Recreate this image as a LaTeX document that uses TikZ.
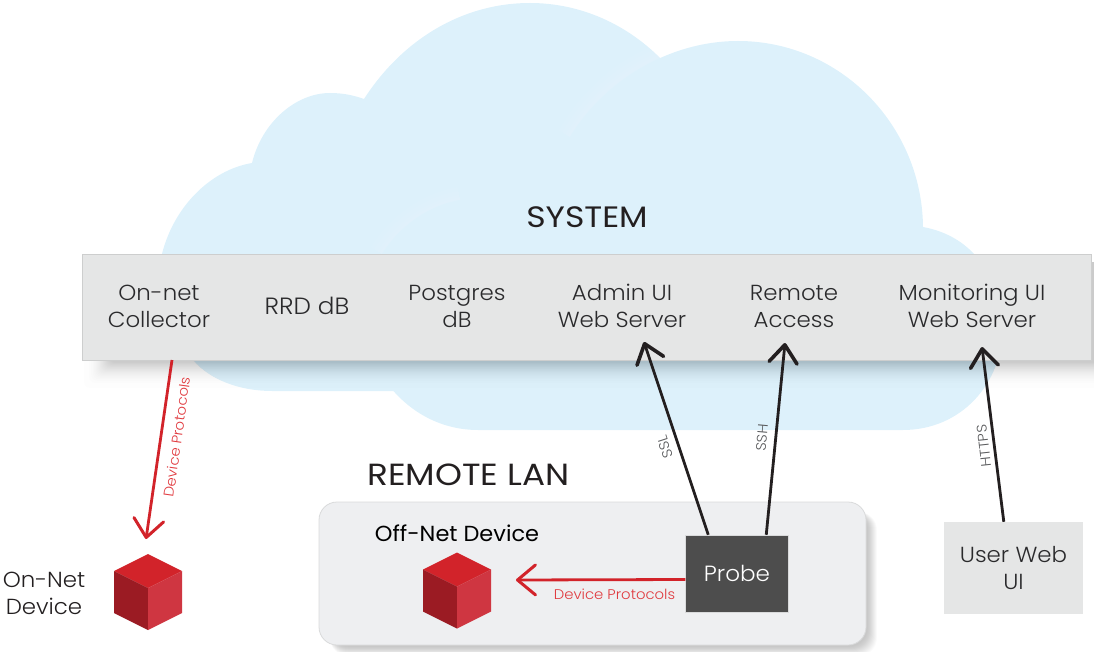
\documentclass[tikz,border=0pt]{standalone}
\usepackage{fontspec}
\setmainfont{Poppins Light}
\newfontfamily\headfont{Poppins}[FakeStretch=1.12]
\newfontfamily\barfont{Poppins Light}[FakeStretch=1.05]
\newfontfamily\smallfont{Poppins Light}[FakeStretch=1.06]
\newfontfamily\regfont{Poppins}[FakeStretch=1.03]
\usetikzlibrary{arrows.meta}
\definecolor{cloudblue}{HTML}{DDF1FB}
\definecolor{barfill}{HTML}{E5E6E6}
\definecolor{barline}{HTML}{CDCECE}
\definecolor{lanfill}{HTML}{EEEFF1}
\definecolor{lanline}{HTML}{D9DADB}
\definecolor{probefill}{HTML}{4D4D4D}
\definecolor{inkdark}{HTML}{231F20}
\definecolor{inkbar}{HTML}{2A2A2C}
\definecolor{inkgrey}{HTML}{58595B}
\definecolor{redline}{HTML}{D2232A}
\definecolor{redtext}{HTML}{E0393E}
\definecolor{cubetop}{HTML}{D2232A}
\definecolor{cubeleft}{HTML}{9B1B23}
\definecolor{cuberight}{HTML}{CF3641}
\tikzset{
  barlabel/.style={font=\barfont\fontsize{21.8}{27}\selectfont,text=inkbar,align=center,inner sep=0pt},
  heading/.style={font=\headfont\fontsize{29.5}{32}\selectfont,text=inkdark,inner sep=0pt},
  protolabel/.style={font=\smallfont\fontsize{14}{15}\selectfont,text=redtext,inner sep=0pt},
  linklabel/.style={font=\smallfont\fontsize{14}{14}\selectfont,text=inkgrey,inner sep=0pt},
  blackarrow/.style={draw=inkdark,line width=2.8pt,-{Straight Barb[length=18pt,width=28pt,line width=3.6pt,round]}},
  redarrow/.style={draw=redline,line width=2.8pt,-{Straight Barb[length=18pt,width=30pt,line width=3pt,round]}},
  cube/.pic={
    \fill[cubetop] (0,-38) -- (34,-21) -- (0,-4) -- (-34,-21) -- cycle;
    \fill[cubeleft] (-34,-21) -- (0,-4) -- (0,38) -- (-34,21) -- cycle;
    \fill[cuberight] (34,-21) -- (0,-4) -- (0,38) -- (34,21) -- cycle;
  }
}
\begin{document}
\begin{tikzpicture}[x=1pt,y=-1pt]
\useasboundingbox (0,0) rectangle (1094,652);
% back cloud
\fill[cloudblue] (161,258) .. controls (172,208) and (210,170) .. (252,163)
  .. controls (262,122) and (296,93) .. (330,93)
  .. controls (342,93) and (353,95) .. (364,99)
  .. controls (402,40) and (462,3) .. (530,3)
  .. controls (580,3) and (628,24) .. (664,62)
  -- (664,391) -- (272,391)
  .. controls (240,391) and (210,380) .. (193,360)
  .. controls (172,335) and (158,300) .. (161,258) -- cycle;
% soft glow on the back cloud along the front lobes
\foreach \w in {26,18,10,5}{
  \draw[white,opacity=.055,line width=\w pt]
    (382,254) .. controls (400,225) and (430,205) .. (460,200)
    (570,137) .. controls (595,95) and (625,72) .. (660,57);
}
% front cloud
\fill[cloudblue] (382,254) .. controls (400,225) and (430,205) .. (460,200)
  .. controls (468,162) and (503,131) .. (538,131)
  .. controls (549,131) and (560,133) .. (570,137)
  .. controls (603,82) and (668,41) .. (738,41)
  .. controls (840,41) and (922,125) .. (923,227)
  .. controls (945,231) and (962,241) .. (974,254)
  .. controls (990,272) and (1003,300) .. (1003,325)
  .. controls (1003,385) and (960,430) .. (903,430)
  -- (478,430)
  .. controls (430,430) and (392,400) .. (373,360)
  .. controls (360,320) and (365,275) .. (382,254) -- cycle;
% bar shadow: layers crowd towards the bar so the edge fades out
\foreach \i in {0,...,25}{
  \pgfmathsetmacro{\inset}{26*sqrt(\i/26)}
  \fill[black,opacity=.0095,rounded corners=6pt] ({84+\inset},262) rectangle (1112,{388-\inset});
}
% system bar
\node[draw=barline,fill=barfill,line width=.8pt,minimum width=1009pt,minimum height=106pt,inner sep=0pt] (bar) at (586.5,307) {};
\node[heading] (system) at (587,217) {SYSTEM};
\node[barlabel] (collector) at (159,306) {On-net\\Collector};
\node[barlabel,font=\barfont\fontsize{23.5}{27}\selectfont] (rrd) at (307,306) {RRD dB};
\node[barlabel] (postgres) at (457,306) {Postgres\\dB};
\node[barlabel] (admin) at (622,306) {Admin UI\\Web Server};
\node[barlabel] (remote) at (794,306) {Remote\\Access};
\node[barlabel] (monitoring) at (972,306) {Monitoring UI\\Web Server};
% LAN box
\foreach \i in {0,...,19}{
  \fill[black,opacity=.0105,rounded corners=18pt] (330,512) rectangle ({877-0.5*\i},{656-0.5*\i});
}
\node[draw=lanline,fill=lanfill,line width=.8pt,rounded corners=18pt,minimum width=547pt,minimum height=143pt,inner sep=0pt] (lan) at (592.5,573.5) {};
\node[heading,font=\headfont\fontsize{30.6}{32}\selectfont] (remotelan) at (468.5,475) {REMOTE LAN};
\node[font=\regfont\fontsize{21.8}{26}\selectfont,text=black,inner sep=0pt] (offlabel) at (457,533) {Off-Net Device};
\node[fill=probefill,draw=lanline,line width=.5pt,minimum width=103pt,minimum height=77pt,inner sep=0pt,text=white,font=\barfont\fontsize{22}{27}\selectfont] (probe) at (737,573.5) {Probe};
\node[fill=barfill,minimum width=139pt,minimum height=92pt,inner sep=0pt,align=center,text=inkbar,font=\barfont\fontsize{21.8}{27}\selectfont] (user) at (1013.5,568) {User Web\\UI};
\node[align=center,text=inkdark,inner sep=0pt,font=\barfont\fontsize{21.8}{27}\selectfont] (onlabel) at (44,593.5) {On-Net\\Device};
% cubes
\coordinate (oncube) at (148,592);
\coordinate (offcube) at (457,590.5);
\pic at (oncube) {cube};
\pic at (offcube) {cube};
% connectors
\draw[redarrow] ([shift={(13,54)}]collector.center) -- ([shift={(-2,-53)}]oncube);
\draw[redarrow] (probe.west |- 0,579.5) -- ([shift={(59,-10.5)}]offcube);
\draw[blackarrow] ([xshift=23pt]probe.north west) -- ([shift={(22,36)}]admin.center);
\draw[blackarrow] ([xshift=81pt]probe.north west) -- ([shift={(-9,37)}]remote.center);
\draw[blackarrow] ([xshift=60pt]user.north west) -- ([shift={(10,41)}]monitoring.center);
% connector labels
\node[protolabel,rotate=82] (protoA) at (177,437) {Device Protocols};
\node[protolabel] (protoB) at (614.5,594) {Device Protocols};
\node[linklabel,rotate=108] (ssl) at (665,447) {SSL};
\node[linklabel,rotate=85] (ssh) at (762,438) {SSH};
\node[linklabel,rotate=96] (https) at (984,446) {HTTPS};
\end{tikzpicture}
\end{document}
